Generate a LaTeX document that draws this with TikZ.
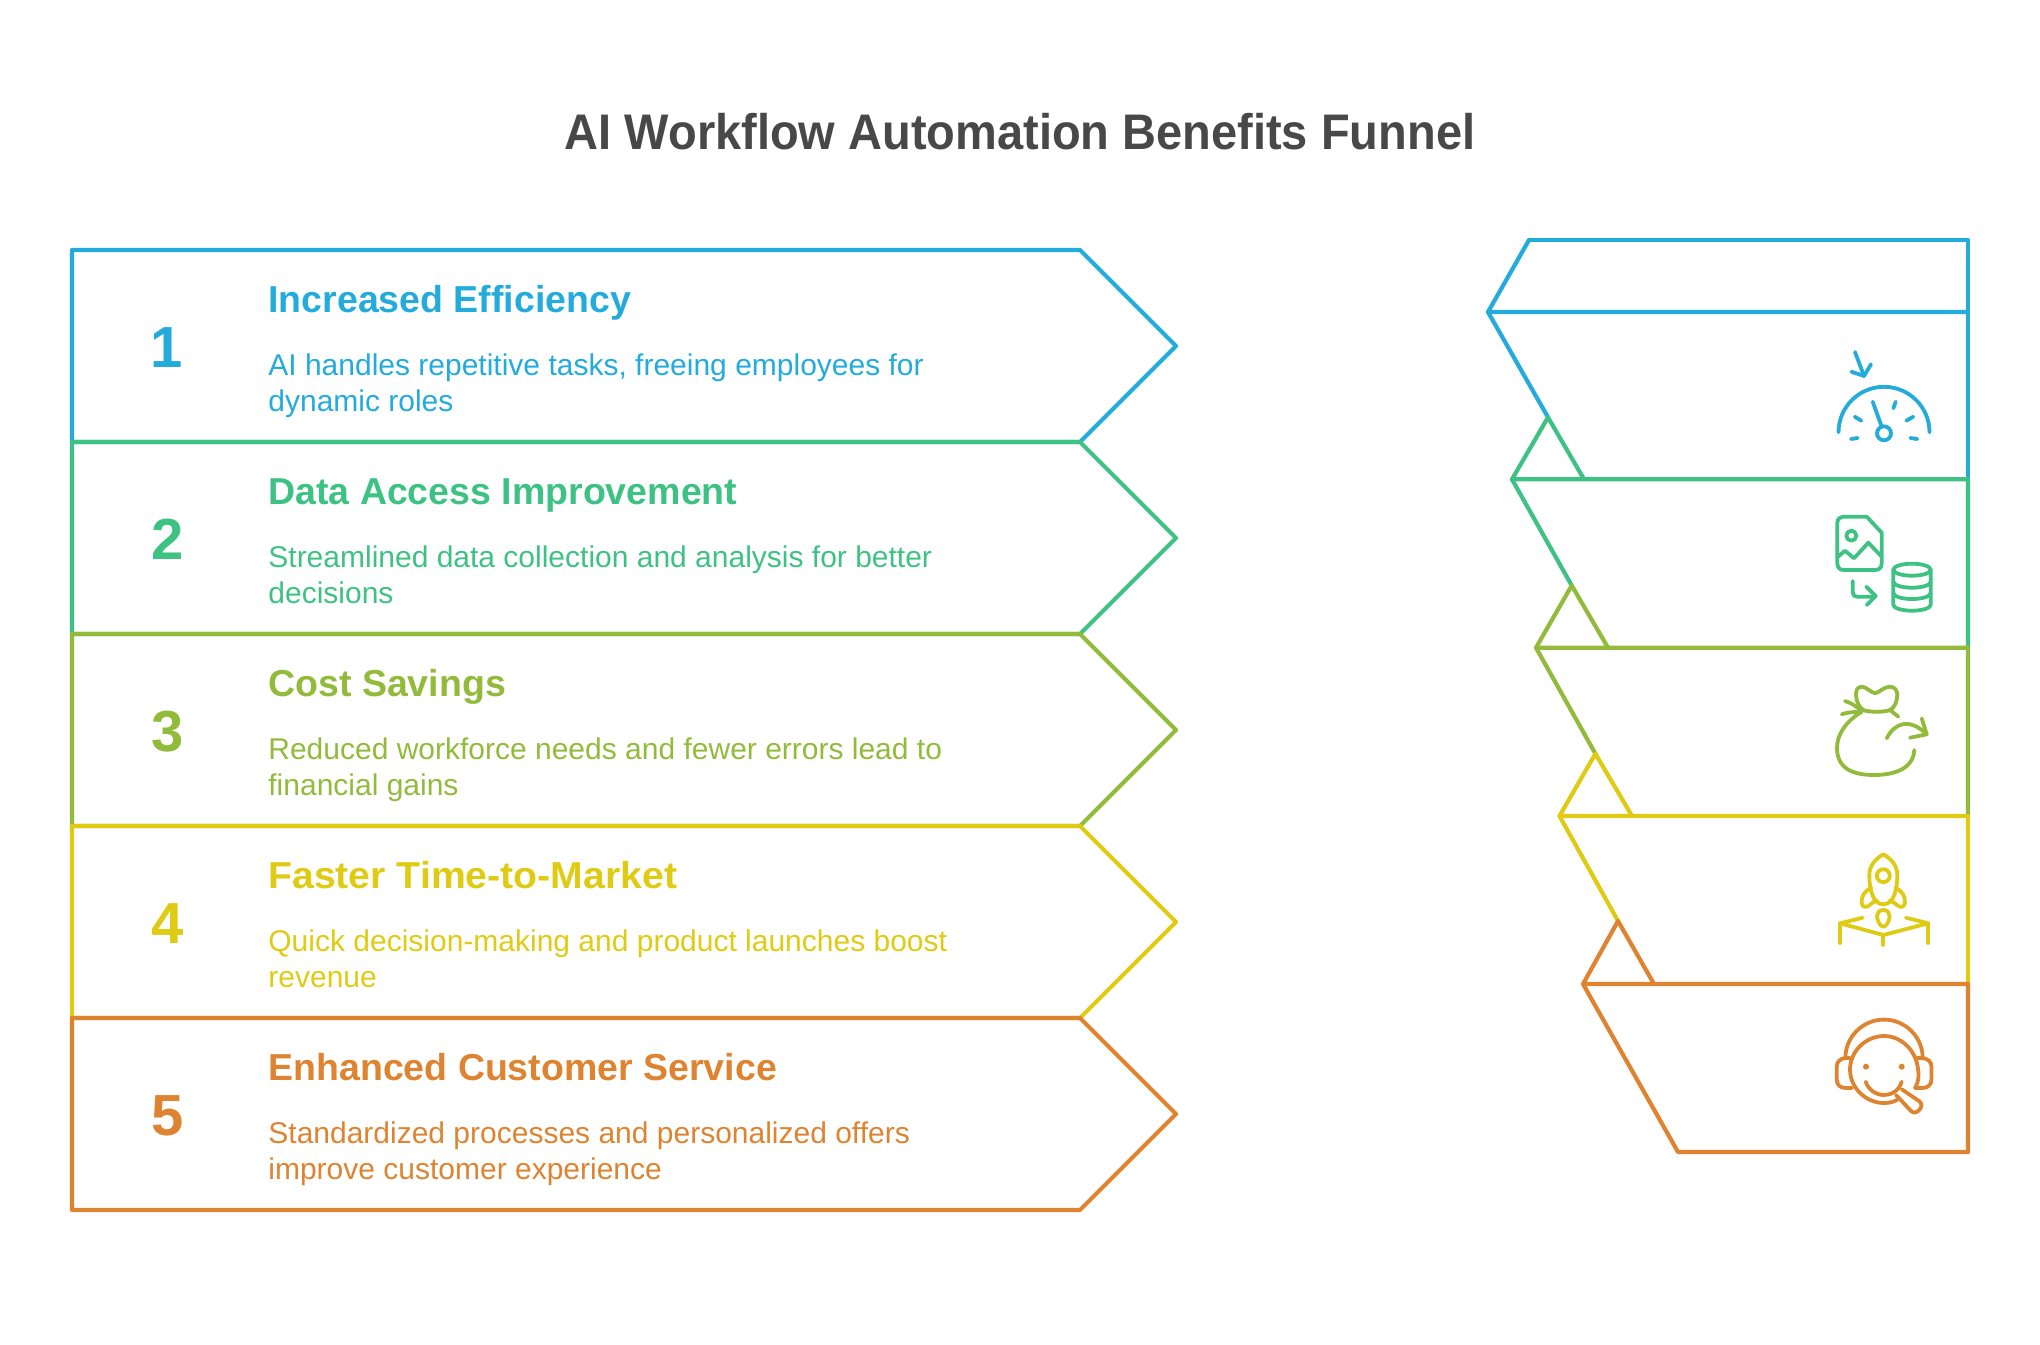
\documentclass[tikz,border=0pt]{standalone}
\usepackage{fontspec}
\setmainfont{Liberation Sans}
\newfontfamily\headfont[FakeStretch=0.94]{Liberation Sans}
\newfontfamily\widefont[FakeStretch=1.045]{Liberation Sans}
\definecolor{cblue}{HTML}{23ABDC}
\definecolor{cgreen}{HTML}{3EC283}
\definecolor{colive}{HTML}{92BB3C}
\definecolor{cyellow}{HTML}{DFCB14}
\definecolor{corange}{HTML}{DE8431}
\definecolor{ctitle}{HTML}{484848}
\tikzset{
  band/.style={line width=2.1pt,line join=round,line cap=round},
  ico/.style={line width=1.9pt,line join=round,line cap=round},
  titletext/.style={anchor=base,inner sep=0pt,text=ctitle,font=\headfont\bfseries\fontsize{25}{30}\selectfont},
  headtext/.style={anchor=base west,inner sep=0pt,font=\bfseries\fontsize{18.75}{22}\selectfont},
  headwide/.style={anchor=base west,inner sep=0pt,font=\widefont\bfseries\fontsize{18.75}{22}\selectfont},
  bodytext/.style={anchor=base west,inner sep=0pt,font=\fontsize{15}{18}\selectfont},
  numtext/.style={anchor=base,inner sep=0pt,font=\bfseries\fontsize{29}{34}\selectfont},
}
\begin{document}
\begin{tikzpicture}[x=0.5pt,y=-0.5pt]
\useasboundingbox (0,0) rectangle (2040,1344);
\node[titletext] (title) at (1020,149.5) {AI Workflow Automation Benefits Funnel};
% left chevrons
\draw[band,cblue] (72,442)--(72,250)--(1080,250)--(1176,346)--(1080,442)--cycle;
\draw[band,cgreen] (72,634)--(72,442)--(1080,442)--(1176,538)--(1080,634)--cycle;
\draw[band,colive] (72,826)--(72,634)--(1080,634)--(1176,730)--(1080,826)--cycle;
\draw[band,cyellow] (72,1018)--(72,826)--(1080,826)--(1176,922)--(1080,1018)--cycle;
\draw[band,corange] (72,1210)--(72,1018)--(1080,1018)--(1176,1114)--(1080,1210)--cycle;
% numbers
\node[numtext,text=cblue] (n1) at (167,367) {1};
\node[numtext,text=cgreen] (n2) at (168,559) {2};
\node[numtext,text=colive] (n3) at (168,751) {3};
\node[numtext,text=cyellow] (n4) at (168,943) {4};
\node[numtext,text=corange] (n5) at (168,1135) {5};
% headings
\node[headtext,text=cblue] (h1) at (268,312) {Increased Efficiency};
\node[headtext,text=cgreen] (h2) at (268,504) {Data Access Improvement};
\node[headtext,text=colive] (h3) at (268,696) {Cost Savings};
\node[headwide,text=cyellow] (h4) at (268,888) {Faster Time-to-Market};
\node[headtext,text=corange] (h5) at (268,1080) {Enhanced Customer Service};
% bodies
\node[bodytext,text=cblue] (b1a) at (268,375) {AI handles repetitive tasks, freeing employees for};
\node[bodytext,text=cblue] (b1b) at (268,411) {dynamic roles};
\node[bodytext,text=cgreen] (b2a) at (268,567) {Streamlined data collection and analysis for better};
\node[bodytext,text=cgreen] (b2b) at (268,603) {decisions};
\node[bodytext,text=colive] (b3a) at (268,759) {Reduced workforce needs and fewer errors lead to};
\node[bodytext,text=colive] (b3b) at (268,795) {financial gains};
\node[bodytext,text=cyellow] (b4a) at (268,951) {Quick decision-making and product launches boost};
\node[bodytext,text=cyellow] (b4b) at (268,987) {revenue};
\node[bodytext,text=corange] (b5a) at (268,1143) {Standardized processes and personalized offers};
\node[bodytext,text=corange] (b5b) at (268,1179) {improve customer experience};
% right funnel
\draw[band,cblue] (1529,240)--(1968,240)--(1968,479.3);
\draw[band,cblue] (1529,240)--(1488,312)--(1968,312);
\draw[band,cblue] (1488,312)--(1548,417.3);
\draw[band,cgreen] (1584,479.3)--(1548,417.3)--(1512,479.3)--(1968,479.3)--(1968,647.7);
\draw[band,cgreen] (1512,479.3)--(1571.7,585.5);
\draw[band,colive] (1608,647.7)--(1571.7,585.5)--(1536,647.7)--(1968,647.7)--(1968,816);
\draw[band,colive] (1536,647.7)--(1595.4,753.7);
\draw[band,cyellow] (1632,816)--(1595.4,753.7)--(1559.5,816)--(1968,816)--(1968,984);
\draw[band,cyellow] (1559.5,816)--(1618,921);
\draw[band,corange] (1654,984)--(1618,921)--(1583,984)--(1968,984)--(1968,1152)--(1678,1152)--(1583,984);
% gauge
\begin{scope}[ico,cblue]
\draw (1838.5,432.3) arc[start angle=180,end angle=360,radius=45.5];
\draw (1872.7,401.7)--(1881.7,426.7);
\draw (1884,433.3) circle[radius=7];
\draw (1854.7,416.7)--(1861.3,420.7);
\draw (1895.7,401.7)--(1893.3,408.3);
\draw (1913.3,416.7)--(1906.3,420.7);
\draw (1851,439)--(1857.7,438);
\draw (1910.3,438)--(1917.3,439);
\draw (1855,352)--(1864,376);
\draw (1871,364.3)--(1864,376)--(1851.3,371.7);
\end{scope}
% data
\begin{scope}[ico,cgreen]
\draw (1866.7,516.7)--(1881.7,532.7)--(1881.7,563) .. controls (1881.7,568) and (1879,570) .. (1875,570)--(1844,570) .. controls (1840,570) and (1837.3,568) .. (1837.3,563)--(1837.3,523) .. controls (1837.3,519) and (1840,516.7) .. (1843,516.7)--cycle;
\draw (1851.3,535.7) circle[radius=5];
\draw (1837.3,557.3)--(1845,550.7)--(1854,558.3)--(1868.3,542.7)--(1881.7,556.7);
\draw (1852.7,581)--(1852.7,592) .. controls (1852.7,595) and (1854,596.7) .. (1857,596.7)--(1875,596.7);
\draw (1866.3,586.7)--(1875.7,596)--(1866.7,605);
\draw (1912,569.7) ellipse[x radius=18.7,y radius=6];
\draw (1893.3,569.7)--(1893.3,604.7) arc[start angle=180,end angle=0,x radius=18.7,y radius=6] --(1930.7,569.7);
\draw (1893.3,581.7) arc[start angle=180,end angle=0,x radius=18.7,y radius=6];
\draw (1893.3,593) arc[start angle=180,end angle=0,x radius=18.7,y radius=6];
\end{scope}
% bag
\begin{scope}[ico,colive]
\draw (1875,693.3) .. controls (1870,692) and (1866,686.7) .. (1861.7,686.7) .. controls (1857,686.7) and (1856,691) .. (1856,695) .. controls (1856,702) and (1860,708) .. (1863.3,710) .. controls (1868,712.3) and (1885,712.3) .. (1890,710) .. controls (1894,708) and (1897.3,702) .. (1897.3,695) .. controls (1897.3,691) and (1895,686.7) .. (1890,686.7) .. controls (1884,686.7) and (1880,692) .. (1875,693.3) -- cycle;
\draw (1845,701) .. controls (1852,703) and (1857,707) .. (1861.7,711);
\draw (1841.7,714.3) .. controls (1848,712) and (1855,712) .. (1861.7,711.7);
\draw (1890,710)--(1898.3,716.7);
\draw (1861.7,711.7) .. controls (1845,722) and (1837,735) .. (1837,748) .. controls (1837,768) and (1852,775) .. (1874,775) .. controls (1900,775) and (1914,765) .. (1914.3,750);
\draw (1886.7,738.3) .. controls (1895,722) and (1910,718) .. (1926.7,734.3);
\draw (1921.7,718.3)--(1926.7,734.3)--(1910,737.7);
\end{scope}
% rocket
\begin{scope}[ico,cyellow]
\draw (1883.3,854.3) .. controls (1875,859) and (1869.3,866) .. (1869.3,875) .. controls (1869.3,890) and (1873,904.3) .. (1883.3,904.3) .. controls (1893.6,904.3) and (1897.3,890) .. (1897.3,875) .. controls (1897.3,866) and (1891.6,859) .. (1883.3,854.3) -- cycle;
\draw (1883.3,875.7) circle[radius=6.5];
\draw (1871.3,888) .. controls (1864,891) and (1861,897) .. (1861.7,903) .. controls (1862,907) and (1866,908) .. (1869,905.5) .. controls (1871,903.5) and (1874,901.5) .. (1877,900.5);
\draw (1895.3,888) .. controls (1902.6,891) and (1905.6,897) .. (1904.9,903) .. controls (1904.6,907) and (1900.6,908) .. (1897.6,905.5) .. controls (1895.6,903.5) and (1892.6,901.5) .. (1889.6,900.5);
\draw (1883.3,910) .. controls (1879,910) and (1877,913) .. (1877,916) .. controls (1877,920) and (1880,926.7) .. (1883.3,926.7) .. controls (1886.6,926.7) and (1889.6,920) .. (1889.6,916) .. controls (1889.6,913) and (1887.6,910) .. (1883.3,910) -- cycle;
\draw (1862.7,917.7)--(1840,923.3)--(1883.3,935)--(1928.3,923.3)--(1906,917.7);
\draw (1840,923.3)--(1840,943);
\draw (1883.3,935)--(1883.3,945);
\draw (1928.3,923.3)--(1928.3,943);
\end{scope}
% headset
\begin{scope}[ico,corange]
\draw (1915,1088) .. controls (1919,1081) and (1919,1075) .. (1918,1069) .. controls (1916,1050) and (1901,1036) .. (1884,1036) .. controls (1866,1036) and (1850,1051) .. (1850,1069.5) .. controls (1850,1088) and (1866,1103) .. (1884,1103) .. controls (1889,1103) and (1893,1102) .. (1897,1100);
\draw (1845.3,1058.3) arc[start angle=180,end angle=360,radius=38.7];
\draw (1850,1058) -- (1846,1058) .. controls (1840,1058) and (1836.7,1062) .. (1836.7,1067)--(1836.7,1079) .. controls (1836.7,1085) and (1840,1088) .. (1846,1088)--(1852,1088);
\draw (1917,1058) -- (1921,1058) .. controls (1928,1058) and (1931.5,1062) .. (1931.5,1067)--(1931.5,1079) .. controls (1931.5,1085) and (1928,1088) .. (1922,1088)--(1915,1088);
\fill (1866,1066.7) circle[radius=3];
\fill (1901.7,1066.7) circle[radius=3];
\draw (1865.7,1081.7) .. controls (1869,1091) and (1877,1095) .. (1884,1095) .. controls (1891,1095) and (1899,1091) .. (1901.7,1081.7);
\draw (1901.7,1089.3)--(1919,1101) .. controls (1922,1103.5) and (1922,1106) .. (1920,1109) .. controls (1917,1113) and (1914,1113.5) .. (1911,1111)--(1896,1095);
\end{scope}
\end{tikzpicture}
\end{document}
